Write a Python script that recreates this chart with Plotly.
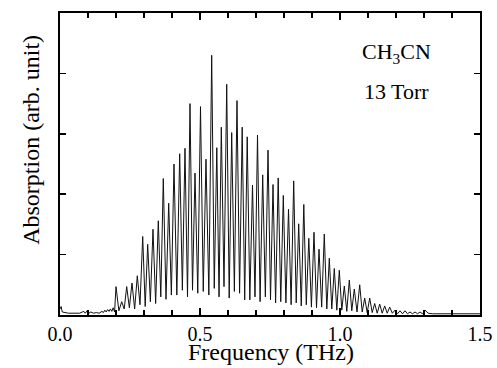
import plotly.graph_objects as go

# ---- data ----
low_freq = [0.000, 0.004, 0.008, 0.015, 0.030, 0.050, 0.070, 0.085, 0.090, 0.097, 0.103, 0.110, 0.120,
            0.130, 0.140, 0.150, 0.155, 0.160, 0.165, 0.170, 0.175, 0.180, 0.185, 0.190, 0.195]
low_abs = [0.10, 0.14, 0.05, 0.04, 0.03, 0.03, 0.03, 0.06, 0.03, 0.07, 0.03, 0.05, 0.03,
           0.04, 0.03, 0.06, 0.04, 0.08, 0.05, 0.09, 0.06, 0.10, 0.06, 0.12, 0.05]

peak_freq = [0.2000, 0.2204, 0.2382, 0.2571, 0.2761, 0.2954, 0.3132, 0.3321, 0.3511, 0.3689,
             0.3882, 0.4071, 0.4275, 0.4464, 0.4643, 0.4821, 0.5018, 0.5214, 0.5418, 0.5600,
             0.5761, 0.5954, 0.6132, 0.6321, 0.6507, 0.6686, 0.6875, 0.7054, 0.7239, 0.7429,
             0.7607, 0.7793, 0.7975, 0.8161, 0.8346, 0.8525, 0.8707, 0.8886, 0.9071, 0.9250,
             0.9439, 0.9618, 0.9796, 0.9975, 1.0154, 1.0332, 1.0511, 1.0704, 1.0882, 1.1061,
             1.1239, 1.1418, 1.1596, 1.1775, 1.1964, 1.2143, 1.2321, 1.2500, 1.2679, 1.2857,
             1.3036]
peak_abs = [0.47, 0.22, 0.47, 0.53, 0.65, 1.30, 1.17, 1.42, 1.56, 2.26,
            1.85, 2.50, 2.67, 2.76, 3.50, 2.35, 3.45, 2.58, 4.30, 2.77,
            3.11, 3.82, 3.02, 3.55, 3.11, 2.95, 2.15, 2.98, 2.32, 2.73,
            2.16, 2.27, 1.98, 1.75, 2.22, 1.51, 1.83, 1.27, 1.37, 1.09,
            1.34, 0.94, 0.77, 0.74, 0.48, 0.58, 0.43, 0.50, 0.28, 0.28,
            0.19, 0.18, 0.15, 0.13, 0.08, 0.07, 0.07, 0.05, 0.05, 0.05,
            0.08]

valley_freq = [0.2102, 0.2293, 0.2477, 0.2666, 0.2857, 0.3043, 0.3227, 0.3416, 0.3600, 0.3786,
               0.3977, 0.4173, 0.4370, 0.4554, 0.4732, 0.4920, 0.5116, 0.5316, 0.5509, 0.5680,
               0.5857, 0.6043, 0.6227, 0.6414, 0.6596, 0.6780, 0.6964, 0.7146, 0.7334, 0.7518,
               0.7700, 0.7884, 0.8068, 0.8254, 0.8436, 0.8616, 0.8796, 0.8979, 0.9161, 0.9345,
               0.9529, 0.9707, 0.9886, 1.0064, 1.0243, 1.0421, 1.0607, 1.0793, 1.0971, 1.1150,
               1.1329, 1.1507, 1.1686, 1.1870, 1.2054, 1.2232, 1.2411, 1.2589, 1.2768, 1.2946]
valley_abs = [0.07, 0.10, 0.12, 0.10, 0.17, 0.14, 0.22, 0.19, 0.30, 0.26,
              0.33, 0.33, 0.41, 0.30, 0.41, 0.36, 0.39, 0.33, 0.44, 0.30,
              0.47, 0.28, 0.39, 0.36, 0.25, 0.25, 0.30, 0.22, 0.30, 0.25,
              0.20, 0.22, 0.20, 0.17, 0.20, 0.15, 0.17, 0.13, 0.12, 0.13,
              0.10, 0.10, 0.08, 0.08, 0.06, 0.07, 0.05, 0.05, 0.04, 0.04,
              0.03, 0.03, 0.03, 0.03, 0.02, 0.02, 0.02, 0.02, 0.02, 0.02]

tail_freq = [1.315, 1.330, 1.360, 1.400, 1.450, 1.500]
tail_abs = [0.03, 0.02, 0.02, 0.02, 0.02, 0.02]

x_ticks = [0.0, 0.5, 1.0, 1.5]
x_ticklabels = ["0.0", "0.5", "1.0", "1.5"]

# ---- assemble trace (interleave peaks and valleys) ----
freq = list(low_freq)
absorb = list(low_abs)
for i in range(len(peak_freq)):
    freq.append(peak_freq[i])
    absorb.append(peak_abs[i])
    if i < len(valley_freq):
        freq.append(valley_freq[i])
        absorb.append(valley_abs[i])
freq += tail_freq
absorb += tail_abs

FONT = "Liberation Serif, Times New Roman, serif"
BIG = dict(family=FONT, size=22, color="black")
TITLE = dict(family=FONT, size=24, color="black")

fig = go.Figure()
fig.add_trace(go.Scatter(x=freq, y=absorb, mode="lines",
                         line=dict(color="#111111", width=1), showlegend=False,
                         hoverinfo="skip"))

fig.add_annotation(x=1.20, y=4.33, xref="x", yref="y", xanchor="center", yanchor="middle",
                   text="CH<sub>3</sub>CN", showarrow=False, font=BIG)
fig.add_annotation(x=1.20, y=3.70, xref="x", yref="y", xanchor="center", yanchor="middle",
                   text="13 Torr", showarrow=False, font=BIG)
fig.add_annotation(x=0.502, y=-0.122, xref="paper", yref="paper", xanchor="center", yanchor="middle",
                   text="Frequency (THz)", showarrow=False, font=TITLE)
fig.add_annotation(x=-0.069, y=0.58, xref="paper", yref="paper", xanchor="center", yanchor="middle",
                   text="Absorption (arb. unit)", textangle=-90, showarrow=False, font=TITLE)

fig.update_xaxes(range=[0, 1.5], tickmode="array", tickvals=x_ticks, ticktext=x_ticklabels,
                 ticks="inside", ticklen=7, tickwidth=1.5, tickcolor="black",
                 minor=dict(dtick=0.1, tick0=0, ticks="inside", ticklen=5, tickwidth=1.5, tickcolor="black"),
                 showline=True, linecolor="black", linewidth=2, mirror="allticks",
                 showgrid=False, zeroline=False, automargin=False,
                 tickfont=dict(family=FONT, size=20, color="black"))
fig.update_yaxes(range=[0, 5], dtick=1, tick0=0, showticklabels=False,
                 ticks="inside", ticklen=6, tickwidth=1.5, tickcolor="black",
                 showline=True, linecolor="black", linewidth=2, mirror="allticks",
                 showgrid=False, zeroline=False, automargin=False)

fig.update_layout(width=497, height=368, margin=dict(l=60, r=17, t=13, b=53),
                  paper_bgcolor="white", plot_bgcolor="white")

fig.write_html("out.html", config={"displayModeBar": False, "staticPlot": True},
               post_script="document.body.style.margin='0';document.body.style.overflow='hidden';")
